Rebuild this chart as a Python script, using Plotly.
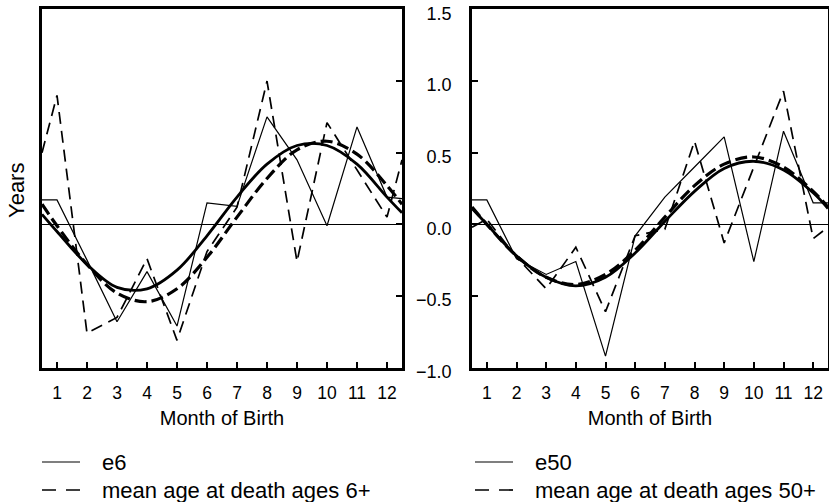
import plotly.graph_objects as go

# x positions: panel edges (0.5, 12.5) plus the 12 months
x_pts = [0.5, 1, 2, 3, 4, 5, 6, 7, 8, 9, 10, 11, 12, 12.5]
month_ticks = [1, 2, 3, 4, 5, 6, 7, 8, 9, 10, 11, 12]
y_ticks = [-1.0, -0.5, 0.0, 0.5, 1.0, 1.5]

# Left panel (ages 6+)
e6 = [0.17, 0.17, -0.25, -0.68, -0.33, -0.71, 0.15, 0.125, 0.75, 0.45, -0.01, 0.68, 0.19, 0.18]
mean6 = [0.50, 0.90, -0.76, -0.65, -0.24, -0.81, -0.19, 0.12, 1.00, -0.26, 0.71, 0.38, 0.05, 0.45]
fit_e6 = [0.07, -0.05, -0.28, -0.44, -0.45, -0.32, -0.08, 0.19, 0.42, 0.55, 0.55, 0.42, 0.19, 0.08]
fit_mean6 = [0.14, -0.01, -0.28, -0.48, -0.54, -0.45, -0.23, 0.05, 0.32, 0.52, 0.58, 0.49, 0.27, 0.14]

# Right panel (ages 50+)
e50 = [0.17, 0.17, -0.24, -0.35, -0.26, -0.92, -0.08, 0.19, 0.40, 0.61, -0.26, 0.65, 0.15, 0.15]
mean50 = [-0.02, 0.035, -0.23, -0.45, -0.16, -0.61, -0.08, -0.035, 0.58, -0.13, 0.40, 0.93, -0.10, -0.02]
fit_e50 = [0.11, 0.00, -0.22, -0.37, -0.43, -0.37, -0.20, 0.02, 0.23, 0.39, 0.44, 0.38, 0.22, 0.11]
fit_mean50 = [0.12, 0.00, -0.22, -0.37, -0.42, -0.35, -0.18, 0.05, 0.27, 0.42, 0.47, 0.40, 0.23, 0.12]

legend_left = ["e6", "mean age at death ages 6+"]
legend_right = ["e50", "mean age at death ages 50+"]

FONT = "Liberation Sans, Arial, sans-serif"
W, H = 829, 502
THIN_DASH = "12px,7px"

fig = go.Figure()

def add_panel(xa, ya, raw, mean, fit_raw, fit_mean, names):
    fig.add_trace(go.Scatter(x=x_pts, y=raw, mode="lines", name=names[0], showlegend=False,
                             line=dict(color="black", width=1.2), xaxis=xa, yaxis=ya))
    fig.add_trace(go.Scatter(x=x_pts, y=mean, mode="lines", name=names[1], showlegend=False,
                             line=dict(color="black", width=1.7, dash=THIN_DASH),
                             xaxis=xa, yaxis=ya))
    fig.add_trace(go.Scatter(x=x_pts, y=fit_raw, mode="lines", showlegend=False,
                             name="fitted " + names[0],
                             line=dict(color="black", width=2.8, shape="spline"),
                             xaxis=xa, yaxis=ya))
    fig.add_trace(go.Scatter(x=x_pts, y=fit_mean, mode="lines", showlegend=False,
                             name="fitted " + names[1],
                             line=dict(color="black", width=3.2, dash="12px,5px", shape="spline"),
                             xaxis=xa, yaxis=ya))

add_panel("x", "y", e6, mean6, fit_e6, fit_mean6, legend_left)
add_panel("x2", "y2", e50, mean50, fit_e50, fit_mean50, legend_right)

xcommon = dict(range=[0.5, 12.5], tickvals=month_ticks, ticks="inside", ticklen=6,
               tickwidth=1.5, tickcolor="black", showline=True, linecolor="black",
               linewidth=2.5, mirror=True, showgrid=False, zeroline=False,
               automargin=False,
               tickfont=dict(size=17.5, color="black", family=FONT),
               ticklabelstandoff=7,
               title=dict(text="Month of Birth", font=dict(size=20, color="black", family=FONT),
                          standoff=10))
ycommon = dict(range=[-1.003, 1.503], tickvals=y_ticks, ticks="inside", ticklen=6,
               tickwidth=1.5, tickcolor="black", showline=True, linecolor="black",
               linewidth=2.5, mirror=True, showgrid=False, zeroline=True,
               automargin=False,
               zerolinecolor="black", zerolinewidth=1.2)

# manual legends (sample line + text), placed in paper coordinates
shapes = []
annotations = []
for x0, labels in ((42, legend_left), (475, legend_right)):
    for i, (label, dash) in enumerate(zip(labels, ["solid", "14px,10px"])):
        yc = 462 + 28 * i
        shapes.append(dict(type="line", xref="paper", yref="paper",
                           x0=x0 / W, x1=(x0 + 38) / W, y0=1 - yc / H, y1=1 - yc / H,
                           line=dict(color="black", width=1.2 if i == 0 else 1.7, dash=dash)))
        annotations.append(dict(text=label, x=(x0 + 58) / W, y=1 - yc / H,
                                xref="paper", yref="paper", xanchor="left", yanchor="middle",
                                showarrow=False,
                                font=dict(size=22, color="black", family=FONT)))

annotations.append(dict(text="Years", x=16 / W, y=1 - 190 / H, xref="paper", yref="paper",
                        xanchor="center", yanchor="middle", showarrow=False, textangle=-90,
                        font=dict(size=22, color="black", family=FONT)))

fig.update_layout(
    width=W, height=H,
    margin=dict(l=0, r=0, t=0, b=0),
    paper_bgcolor="white", plot_bgcolor="white",
    font=dict(family=FONT, color="black"),
    showlegend=False,
    xaxis=dict(domain=[42 / W, 402 / W], anchor="y", **xcommon),
    xaxis2=dict(domain=[472 / W, 828 / W], anchor="y2", **xcommon),
    yaxis=dict(domain=[1 - 368 / H, 1 - 9 / H], anchor="x", side="right",
               showticklabels=False, **ycommon),
    yaxis2=dict(domain=[1 - 368 / H, 1 - 9 / H], anchor="x2", side="left",
                showticklabels=True, tickformat=".1f", ticklabelstandoff=14,
                ticklabelshift=4, ticklabeloverflow="allow",
                tickfont=dict(size=18, color="black", family=FONT), **ycommon),
    shapes=shapes,
    annotations=annotations,
)

fig.write_html("out.html")
